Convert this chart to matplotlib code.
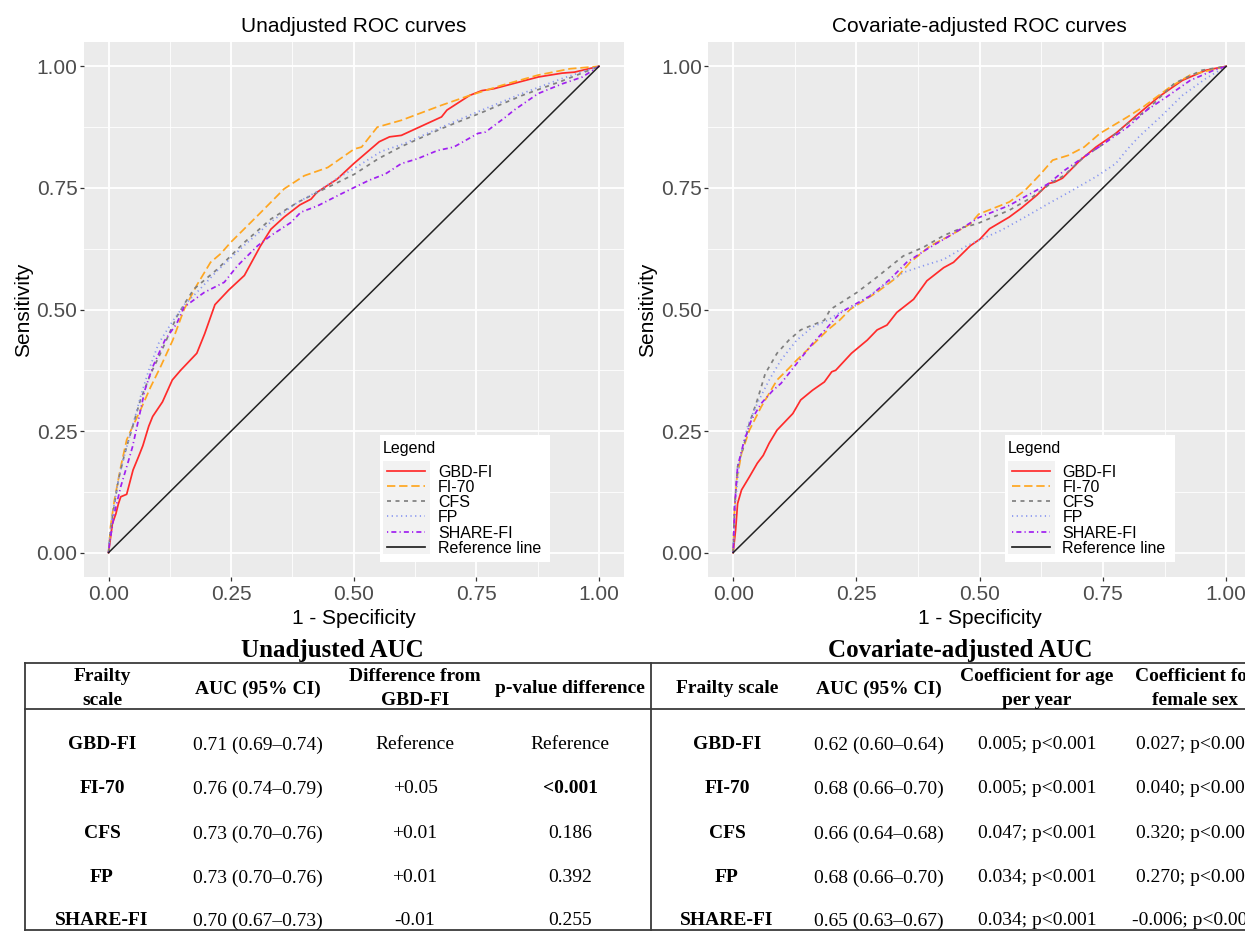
import matplotlib
matplotlib.use('Agg')
import matplotlib.pyplot as plt
from matplotlib.patches import Rectangle

plt.rcParams['font.family'] = ['Liberation Sans', 'DejaVu Sans']

W, H = 1245, 932

scales = ['GBD-FI', 'FI-70', 'CFS', 'FP', 'SHARE-FI']

# ---- unadjusted ROC curves (1 - specificity, sensitivity)
gbd_fpr = [0, 0.004, 0.008, 0.015, 0.02, 0.025, 0.037, 0.05, 0.061, 0.07, 0.082, 0.09, 0.11, 0.13, 0.147,
           0.18, 0.196, 0.217, 0.245, 0.277, 0.31, 0.331, 0.358, 0.39, 0.413, 0.425, 0.466, 0.5, 0.552,
           0.573, 0.597, 0.679, 0.69, 0.736, 0.761, 0.786, 0.876, 0.925, 0.95, 1]
gbd_tpr = [0, 0.03, 0.06, 0.08, 0.10, 0.115, 0.12, 0.17, 0.197, 0.22, 0.26, 0.28, 0.31, 0.355, 0.375,
           0.41, 0.45, 0.51, 0.54, 0.57, 0.631, 0.665, 0.69, 0.715, 0.727, 0.741, 0.768, 0.80, 0.845,
           0.855, 0.858, 0.896, 0.91, 0.94, 0.95, 0.954, 0.978, 0.986, 0.988, 1]

fi70_fpr = [0, 0.004, 0.012, 0.025, 0.037, 0.049, 0.065, 0.086, 0.106, 0.131, 0.154, 0.18, 0.208, 0.229,
            0.249, 0.304, 0.358, 0.399, 0.447, 0.501, 0.516, 0.548, 0.597, 0.679, 0.736, 0.802, 0.876,
            0.941, 1]
fi70_tpr = [0, 0.053, 0.108, 0.177, 0.232, 0.259, 0.293, 0.341, 0.382, 0.437, 0.50, 0.55, 0.597, 0.615,
            0.638, 0.693, 0.748, 0.775, 0.792, 0.83, 0.834, 0.875, 0.889, 0.92, 0.94, 0.961, 0.982,
            0.995, 1]

cfs_fpr = [0, 0.002, 0.008, 0.02, 0.033, 0.049, 0.065, 0.086, 0.106, 0.139, 0.155, 0.174, 0.222, 0.277,
           0.331, 0.385, 0.426, 0.467, 0.501, 0.55, 0.597, 0.679, 0.761, 0.843, 0.925, 1]
cfs_tpr = [0, 0.026, 0.074, 0.149, 0.204, 0.259, 0.314, 0.368, 0.41, 0.485, 0.512, 0.542, 0.583, 0.638,
           0.686, 0.72, 0.741, 0.761, 0.778, 0.81, 0.835, 0.872, 0.905, 0.94, 0.97, 1]

fp_fpr = [0, 0.003, 0.01, 0.02, 0.035, 0.049, 0.065, 0.082, 0.102, 0.13, 0.155, 0.18, 0.222, 0.277, 0.331,
          0.385, 0.43, 0.467, 0.501, 0.556, 0.6, 0.679, 0.761, 0.843, 0.925, 1]
fp_tpr = [0, 0.04, 0.09, 0.15, 0.21, 0.26, 0.32, 0.375, 0.43, 0.475, 0.51, 0.535, 0.58, 0.632, 0.68,
          0.72, 0.745, 0.77, 0.79, 0.825, 0.84, 0.875, 0.91, 0.944, 0.975, 1]

share_fpr = [0, 0.002, 0.012, 0.025, 0.041, 0.049, 0.061, 0.074, 0.09, 0.115, 0.139, 0.154, 0.195, 0.236,
             0.263, 0.304, 0.331, 0.372, 0.392, 0.426, 0.467, 0.501, 0.532, 0.565, 0.597, 0.63, 0.671,
             0.704, 0.753, 0.769, 0.81, 0.827, 0.876, 0.925, 0.966, 1]
share_tpr = [0, 0.019, 0.081, 0.136, 0.19, 0.218, 0.273, 0.334, 0.382, 0.437, 0.471, 0.505, 0.535, 0.556,
             0.59, 0.631, 0.652, 0.679, 0.70, 0.713, 0.734, 0.751, 0.766, 0.779, 0.80, 0.81, 0.827,
             0.834, 0.862, 0.865, 0.896, 0.91, 0.944, 0.964, 0.978, 1]

# ---- covariate-adjusted ROC curves
gbd_adj_fpr = [0, 0.005, 0.009, 0.017, 0.033, 0.049, 0.061, 0.073, 0.089, 0.105, 0.121, 0.137, 0.161, 0.185,
               0.2, 0.208, 0.24, 0.272, 0.292, 0.312, 0.332, 0.366, 0.393, 0.427, 0.447, 0.481, 0.501, 0.52,
               0.56, 0.584, 0.616, 0.64, 0.652, 0.668, 0.704, 0.736, 0.776, 0.823, 0.863, 0.911, 0.959, 1]
gbd_adj_tpr = [0, 0.047, 0.101, 0.129, 0.156, 0.184, 0.2, 0.225, 0.252, 0.269, 0.286, 0.314, 0.334, 0.351,
               0.372, 0.375, 0.41, 0.437, 0.458, 0.468, 0.494, 0.521, 0.559, 0.586, 0.597, 0.631, 0.645, 0.666,
               0.69, 0.708, 0.735, 0.759, 0.762, 0.77, 0.807, 0.834, 0.862, 0.903, 0.937, 0.971, 0.992, 1]

fi70_adj_fpr = [0, 0.002, 0.007, 0.017, 0.033, 0.057, 0.089, 0.113, 0.129, 0.161, 0.192, 0.216, 0.237, 0.291,
                0.332, 0.359, 0.40, 0.44, 0.481, 0.498, 0.56, 0.592, 0.624, 0.648, 0.68, 0.712, 0.744, 0.8,
                0.831, 0.887, 0.927, 1]
fi70_adj_tpr = [0, 0.074, 0.149, 0.204, 0.252, 0.30, 0.355, 0.379, 0.396, 0.427, 0.458, 0.478, 0.50, 0.535,
                0.566, 0.597, 0.631, 0.652, 0.676, 0.696, 0.721, 0.745, 0.779, 0.807, 0.817, 0.834, 0.862, 0.896,
                0.916, 0.958, 0.982, 1]

cfs_adj_fpr = [0, 0.003, 0.009, 0.021, 0.033, 0.049, 0.065, 0.089, 0.113, 0.137, 0.161, 0.185, 0.197, 0.251,
               0.291, 0.345, 0.386, 0.427, 0.467, 0.494, 0.56, 0.608, 0.648, 0.672, 0.712, 0.752, 0.8, 0.839,
               0.895, 0.951, 1]
cfs_adj_tpr = [0, 0.095, 0.177, 0.218, 0.266, 0.314, 0.368, 0.41, 0.437, 0.458, 0.468, 0.478, 0.50, 0.535,
               0.566, 0.61, 0.628, 0.652, 0.669, 0.676, 0.704, 0.732, 0.762, 0.776, 0.814, 0.841, 0.882, 0.91,
               0.965, 0.992, 1]

fp_adj_fpr = [0, 0.005, 0.013, 0.029, 0.049, 0.073, 0.097, 0.129, 0.161, 0.192, 0.224, 0.244, 0.305, 0.345,
              0.386, 0.427, 0.474, 0.544, 0.592, 0.64, 0.688, 0.736, 0.776, 0.8, 0.823, 0.871, 0.911, 0.959, 1]
fp_adj_tpr = [0, 0.108, 0.19, 0.259, 0.307, 0.355, 0.396, 0.437, 0.464, 0.478, 0.499, 0.505, 0.549, 0.576,
              0.59, 0.603, 0.631, 0.663, 0.69, 0.718, 0.745, 0.773, 0.80, 0.83, 0.855, 0.90, 0.94, 0.975, 1]

share_adj_fpr = [0, 0.003, 0.009, 0.021, 0.037, 0.057, 0.081, 0.097, 0.129, 0.161, 0.192, 0.216, 0.237, 0.278,
                 0.318, 0.352, 0.393, 0.44, 0.467, 0.498, 0.56, 0.592, 0.64, 0.672, 0.712, 0.752, 0.8, 0.839,
                 0.879, 0.927, 0.975, 1]
share_adj_tpr = [0, 0.095, 0.177, 0.225, 0.273, 0.307, 0.334, 0.348, 0.389, 0.43, 0.464, 0.492, 0.505, 0.528,
                 0.562, 0.597, 0.624, 0.652, 0.669, 0.689, 0.714, 0.732, 0.759, 0.786, 0.814, 0.841, 0.875, 0.91,
                 0.937, 0.971, 0.992, 1]

ref_x = [0, 1]
ref_y = [0, 1]

axis_ticks = [0, 0.25, 0.5, 0.75, 1]
axis_tick_labels = ['0.00', '0.25', '0.50', '0.75', '1.00']

# ---- AUC tables
unadj_headers = ['Frailty\nscale', 'AUC (95% CI)', 'Difference from\nGBD-FI', 'p-value difference']
unadj_auc = ['0.71 (0.69–0.74)', '0.76 (0.74–0.79)', '0.73 (0.70–0.76)', '0.73 (0.70–0.76)', '0.70 (0.67–0.73)']
unadj_diff = ['Reference', '+0.05', '+0.01', '+0.01', '-0.01']
unadj_p = ['Reference', '<0.001', '0.186', '0.392', '0.255']

adj_headers = ['Frailty scale', 'AUC (95% CI)', 'Coefficient for age\nper year', 'Coefficient for\nfemale sex']
adj_auc = ['0.62 (0.60–0.64)', '0.68 (0.66–0.70)', '0.66 (0.64–0.68)', '0.68 (0.66–0.70)', '0.65 (0.63–0.67)']
adj_age = ['0.005; p<0.001', '0.005; p<0.001', '0.047; p<0.001', '0.034; p<0.001', '0.034; p<0.001']
adj_sex = ['0.027; p<0.001', '0.040; p<0.001', '0.320; p<0.001', '0.270; p<0.001', '-0.006; p<0.001']

LW = 1.25
line_colors = ['#FF2B2B', '#FFA620', '#7F7F7F', '#8795F0', '#A020F0']
line_dashes = ['-', (0, (4.8, 2.2)), (0, (2.3, 2.6)), (0, (0.7, 2.0)), (0, (0.7, 1.8, 2.9, 1.8))]
ref_color = '#222222'


def draw_panel(ax, curves, title):
    ax.set_facecolor('#EBEBEB')
    for (xs, ys), col, ls in zip(curves, line_colors, line_dashes):
        ax.plot(xs, ys, color=col, linestyle=ls, lw=LW)
    ax.plot(ref_x, ref_y, color=ref_color, lw=1.1)
    ax.set_xlim(-0.05, 1.05)
    ax.set_ylim(-0.05, 1.05)
    ax.set_xticks(axis_ticks)
    ax.set_xticklabels(axis_tick_labels)
    ax.set_yticks(axis_ticks)
    ax.set_yticklabels(axis_tick_labels)
    minor = [0.125, 0.375, 0.625, 0.875]
    ax.set_xticks(minor, minor=True)
    ax.set_yticks(minor, minor=True)
    ax.grid(which='major', color='white', lw=1.3)
    ax.grid(which='minor', color='white', lw=0.6)
    ax.set_axisbelow(True)
    ax.tick_params(which='major', length=2.9, width=0.9, color='#333333', labelsize=15, labelcolor='#4D4D4D')
    ax.tick_params(axis='x', pad=2.9)
    ax.tick_params(axis='y', pad=1.8)
    ax.tick_params(which='minor', length=0)
    for s in ax.spines.values():
        s.set_visible(False)
    ax.set_title(title, fontsize=15, pad=7.2)
    ax.set_xlabel('1 - Specificity', fontsize=15, labelpad=3.5)
    ax.set_ylabel('Sensitivity', fontsize=15, labelpad=2.8)


def draw_legend(ov, left, top):
    # ggplot style legend box, pixel coordinates of the overlay
    ov.add_patch(Rectangle((left, top), 170, 127, facecolor='white', edgecolor='none'))
    ov.text(left + 3, top + 13.6, 'Legend', fontsize=11.5, va='center', ha='left')
    ov.add_patch(Rectangle((left + 3, top + 26), 47, 93, facecolor='#F2F2F2', edgecolor='none'))
    names = scales + ['Reference line']
    cols = line_colors + [ref_color]
    dashes = line_dashes + ['-']
    for i, name in enumerate(names):
        y = top + 35.7 + i * 15.2
        ov.plot([left + 7, left + 45], [y, y], color=cols[i], linestyle=dashes[i], lw=LW)
        ov.text(left + 58, y + 1.6, name, fontsize=11.5, va='center', ha='left')


def draw_table(ov, title, title_x, headers, col_x, columns, bold_cells):
    serif = ['Liberation Serif', 'DejaVu Serif']
    ov.text(title_x, 657, title, fontsize=18, fontweight='bold', family=serif, ha='center', va='baseline')
    for x, head in zip(col_x, headers):
        ov.text(x, 687 + 1.9, head, fontsize=14, fontweight='bold', family=serif, ha='center', va='center',
                linespacing=1.55)
    row_y = [743, 787, 832, 876, 919]
    for c, (x, values) in enumerate(zip(col_x, columns)):
        for r, (y, val) in enumerate(zip(row_y, values)):
            weight = 'bold' if c == 0 or (r, c) in bold_cells else 'normal'
            ov.text(x, y + 1.9, val, fontsize=14, fontweight=weight, family=serif, ha='center', va='center')


fig = plt.figure(figsize=(W / 100, H / 100), dpi=100)
fig.patch.set_facecolor('white')

ax1 = fig.add_axes([84 / W, (H - 577) / H, 539.5 / W, 535 / H])
draw_panel(ax1, [(gbd_fpr, gbd_tpr), (fi70_fpr, fi70_tpr), (cfs_fpr, cfs_tpr), (fp_fpr, fp_tpr),
                 (share_fpr, share_tpr)], 'Unadjusted ROC curves')

ax2 = fig.add_axes([708.5 / W, (H - 577) / H, 542.3 / W, 535 / H])
draw_panel(ax2, [(gbd_adj_fpr, gbd_adj_tpr), (fi70_adj_fpr, fi70_adj_tpr), (cfs_adj_fpr, cfs_adj_tpr),
                 (fp_adj_fpr, fp_adj_tpr), (share_adj_fpr, share_adj_tpr)], 'Covariate-adjusted ROC curves')

# overlay in image pixel coordinates for legends and tables
ov = fig.add_axes([0, 0, 1, 1])
ov.set_xlim(0, W)
ov.set_ylim(H, 0)
ov.axis('off')

draw_legend(ov, 84 + 296, 435)
draw_legend(ov, 708.5 + 296, 435)

border = '#3A3A3A'
ov.plot([25, W + 10], [663, 663], color=border, lw=1.3)
ov.plot([25, W + 10], [709, 709], color=border, lw=1.3)
ov.plot([25, W + 10], [930, 930], color=border, lw=1.3)
ov.plot([25, 25], [663, 930], color=border, lw=1.3)
ov.plot([651, 651], [663, 930], color=border, lw=1.3)

draw_table(ov, 'Unadjusted AUC', 332, unadj_headers, [102, 258, 415, 570],
           [scales, unadj_auc, unadj_diff, unadj_p], {(1, 3)})
draw_table(ov, 'Covariate-adjusted AUC', 960, adj_headers, [727, 879, 1037, 1195],
           [scales, adj_auc, adj_age, adj_sex], set())

fig.savefig('out.png', dpi=100)
